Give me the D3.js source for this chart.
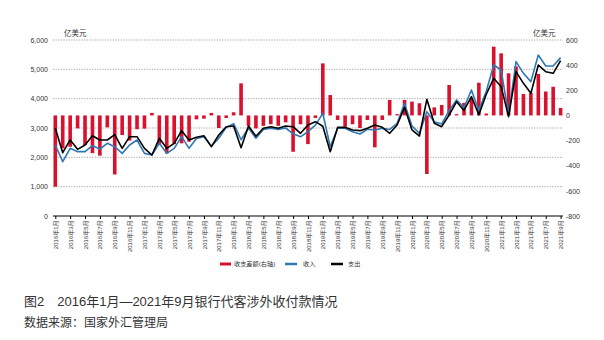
<!DOCTYPE html>
<html><head><meta charset="utf-8">
<script src="https://cdn.jsdelivr.net/npm/d3@7"></script>
<style>
body{margin:0;background:#fff;}
svg{display:block;}
text{font-family:"Liberation Sans","Noto Sans CJK SC",Arial,sans-serif;}
</style></head>
<body><svg id="c" width="604" height="340"></svg>
<script>
const months = ["2016年1月","2016年2月","2016年3月","2016年4月","2016年5月","2016年6月","2016年7月","2016年8月","2016年9月","2016年10月","2016年11月","2016年12月",
"2017年1月","2017年2月","2017年3月","2017年4月","2017年5月","2017年6月","2017年7月","2017年8月","2017年9月","2017年10月","2017年11月","2017年12月",
"2018年1月","2018年2月","2018年3月","2018年4月","2018年5月","2018年6月","2018年7月","2018年8月","2018年9月","2018年10月","2018年11月","2018年12月",
"2019年1月","2019年2月","2019年3月","2019年4月","2019年5月","2019年6月","2019年7月","2019年8月","2019年9月","2019年10月","2019年11月","2019年12月",
"2020年1月","2020年2月","2020年3月","2020年4月","2020年5月","2020年6月","2020年7月","2020年8月","2020年9月","2020年10月","2020年11月","2020年12月",
"2021年1月","2021年2月","2021年3月","2021年4月","2021年5月","2021年6月","2021年7月","2021年8月","2021年9月"];

// 收支差额 (right axis, 亿美元)
const balance = [-567,-262,-249,-103,-236,-300,-320,-95,-470,-156,-200,-110,
-105,20,-236,-302,-228,-222,-209,-31,-26,20,-100,-20,
25,255,-83,-103,-83,-70,-83,-55,-289,-70,-228,-20,
414,162,-36,-90,-70,-100,-36,-254,-36,123,10,123,
110,97,-466,64,83,242,10,100,136,260,15,547,
494,335,390,170,180,330,190,228,60];

// 收入 (left axis)
const income = [2420,1852,2307,2193,2193,2398,2284,2477,2364,2136,2420,2591,
2136,2080,2477,2136,2307,2704,2307,2640,2700,2380,2650,3020,
3150,2600,3000,2650,2950,2990,2950,3000,2800,2700,2875,3100,
3500,2360,2990,2990,2875,2795,2955,2932,2990,2950,3159,3830,
3068,2818,3557,3216,3136,3591,3955,3700,4295,3600,4250,5148,
4977,3443,5261,4864,4580,5489,5114,5114,5400];

// 支出 (left axis)
const expense = [2990,2159,2591,2273,2420,2738,2591,2591,2772,2307,2704,2704,
2307,2080,2648,2307,2477,2909,2591,2682,2738,2364,2761,3045,
3068,2330,3068,2720,2990,3045,2990,3068,3045,2818,3102,3216,
3060,2193,3023,3023,2932,2909,2990,3102,3023,2818,3102,3705,
2932,2727,3978,3159,3045,3443,3898,3600,4068,3450,4150,4693,
4409,3386,4920,4523,4182,5148,4920,4864,5300];

const leftTicks = [0,1000,2000,3000,4000,5000,6000];
const rightTicks = [-800,-600,-400,-200,0,200,400,600];

const svg = d3.select("#c");
const x = d3.scalePoint().domain(months).range([55.3, 560.6]);
const yL = d3.scaleLinear().domain([0,6000]).range([216,40]);
const yR = d3.scaleLinear().domain([-800,600]).range([216,40]);

// gridlines
svg.append("g").selectAll("line").data(leftTicks.filter(d=>d>0)).join("line")
  .attr("x1",53).attr("x2",563).attr("y1",d=>yL(d)).attr("y2",d=>yL(d))
  .attr("stroke","#8a8a8a").attr("stroke-width",0.8).attr("stroke-dasharray","1.2,1.4");

// left axis
const gL = svg.append("g").attr("transform","translate(52,0)")
  .call(d3.axisLeft(yL).tickValues(leftTicks).tickFormat(d3.format(",")).tickSize(0).tickPadding(4));
gL.select(".domain").remove();
gL.selectAll("text").attr("font-size",7).attr("fill","#333").attr("font-family","Liberation Sans, Arial, sans-serif");

// right axis
const gR = svg.append("g").attr("transform","translate(563,0)")
  .call(d3.axisRight(yR).tickValues(rightTicks).tickFormat(d=>String(d)).tickSize(0).tickPadding(3));
gR.select(".domain").remove();
gR.selectAll("text").attr("font-size",7).attr("fill","#333").attr("font-family","Liberation Sans, Arial, sans-serif");

// unit labels
svg.append("text").attr("x",64).attr("y",35.5).attr("font-size",7.5).attr("fill","#333").text("亿美元");
svg.append("text").attr("x",533).attr("y",35.5).attr("font-size",7.5).attr("fill","#333").text("亿美元");

// bars
const bw = 3.6;
svg.append("g").selectAll("rect").data(balance).join("rect")
  .attr("x",(d,i)=>x(months[i])-bw/2)
  .attr("y",d=>yR(Math.max(0,d)))
  .attr("width",bw)
  .attr("height",d=>Math.abs(yR(d)-yR(0)))
  .attr("fill","#d9112e");

// lines
const lineL = d3.line().x((d,i)=>x(months[i])).y(d=>yL(d));
svg.append("path").datum(income).attr("d",lineL).attr("fill","none")
  .attr("stroke","#2f78b4").attr("stroke-width",1.6).attr("stroke-linejoin","round");
svg.append("path").datum(expense).attr("d",lineL).attr("fill","none")
  .attr("stroke","#000").attr("stroke-width",1.6).attr("stroke-linejoin","round");

// x axis
svg.append("line").attr("x1",53).attr("x2",563).attr("y1",216).attr("y2",216)
  .attr("stroke","#000").attr("stroke-width",1);
const gX = svg.append("g").attr("transform","translate(0,216)")
  .call(d3.axisBottom(x).tickValues(months.filter((d,i)=>i%2===0)).tickSize(3).tickPadding(2));
gX.select(".domain").remove();
gX.selectAll(".tick line").attr("stroke","#000");
gX.selectAll("text").attr("font-size",6).attr("fill","#333")
  .attr("transform","rotate(-90)").attr("text-anchor","end")
  .attr("x",-4.5).attr("y",0).attr("dy","0.35em");

// legend
const lg = svg.append("g");
lg.append("rect").attr("x",220).attr("y",262.5).attr("width",11).attr("height",3).attr("fill","#d9112e");
lg.append("text").attr("x",234).attr("y",266.3).attr("font-size",6.2).attr("fill","#333").text("收支差额(右轴)");
lg.append("line").attr("x1",285).attr("x2",297).attr("y1",264).attr("y2",264).attr("stroke","#2f78b4").attr("stroke-width",2.5);
lg.append("text").attr("x",303).attr("y",266.3).attr("font-size",6.2).attr("fill","#333").text("收入");
lg.append("line").attr("x1",331).attr("x2",343).attr("y1",264).attr("y2",264).attr("stroke","#000").attr("stroke-width",2.5);
lg.append("text").attr("x",348).attr("y",266.3).attr("font-size",6.2).attr("fill","#333").text("支出");

// caption
svg.append("text").attr("x",24).attr("y",306).attr("font-size",13).attr("fill","#333")
  .attr("font-family","Noto Sans CJK SC, sans-serif").text("图2　2016年1月—2021年9月银行代客涉外收付款情况");
svg.append("text").attr("x",24).attr("y",327).attr("font-size",12).attr("fill","#333")
  .attr("font-family","Noto Sans CJK SC, sans-serif").text("数据来源：国家外汇管理局");
</script></body></html>
